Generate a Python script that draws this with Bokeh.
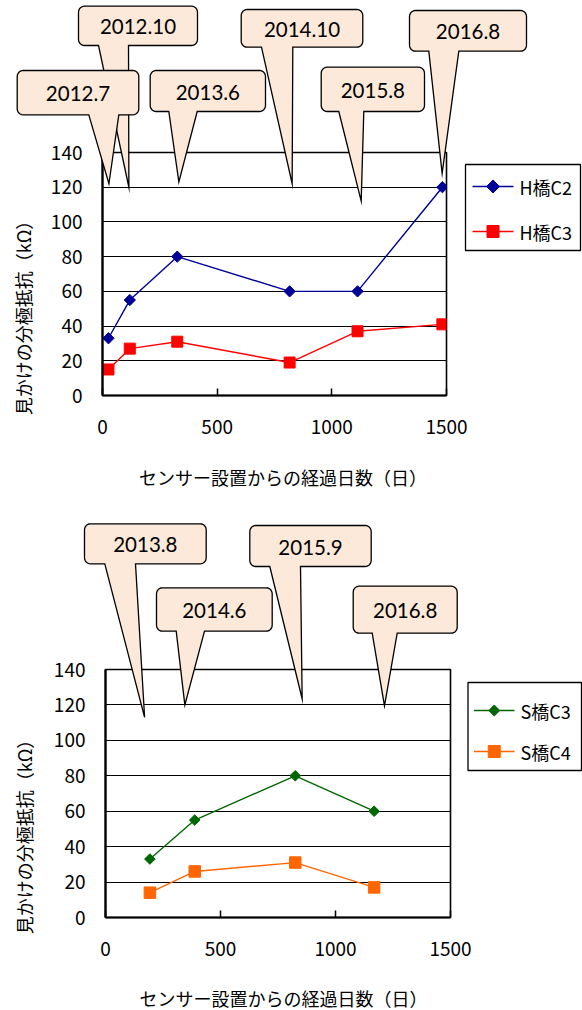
import math
from bokeh.plotting import figure
from bokeh.models import Range1d, FixedTicker
from bokeh.core.properties import value
from bokeh.embed import file_html
from bokeh.resources import INLINE

# ---------------- data ----------------
x_ticks = [0, 500, 1000, 1500]
y_ticks = [0, 20, 40, 60, 80, 100, 120, 140]

h_days = [26, 119, 326, 816, 1112, 1482]
h_c2 = [33, 55, 80, 60, 60, 120]
h_c3 = [15, 27, 31, 19, 37, 41]
h_names = ["H橋C2", "H橋C3"]
h_dates = ["2012.7", "2012.10", "2013.6", "2014.10", "2015.8", "2016.8"]
h_tip_days = [28, 115, 333, 827, 1128, 1481]
h_tip_vals = [122, 120, 123, 122, 112, 128]

s_days = [193, 388, 825, 1168]
s_c3 = [33, 55, 80, 60]
s_c4 = [14, 26, 31, 17]
s_names = ["S橋C3", "S橋C4"]
s_dates = ["2013.8", "2014.6", "2015.9", "2016.8"]
s_tip_days = [170, 345, 855, 1213]
s_tip_vals = [113, 120, 123.5, 119.5]

y_title = "見かけの分極抵抗（kΩ）"
x_title = "センサー設置からの経過日数（日）"

# ---------------- styles / layout (pixel positions on the page) ----------------
JP = "Noto Sans CJK JP"
FS = "18px"
TICK_FS = "19px"
CALLOUT_FS = "20.5px"
PEACH = "#FDE9D9"
PAGE_W = 582

top_cfg = dict(fig_top=0, height=505, frame_left=102, frame_w=344, frame_top=152, frame_h=243,
               legend_box=(465, 580, 164, 250), legend_rows=(186, 231), legend_line=(472, 513), legend_text_x=519,
               ytitle=(22.5, 313), xtitle=(282.5, 476.5),
               boxes=[(16.7, 138.3, 70, 114.3, 88.3, 118.3),
                      (78, 197, 5.7, 45, 98, 128),
                      (149.7, 265, 70, 111, 168.3, 196.7),
                      (240.7, 362.3, 9, 46.7, 261, 292.3),
                      (320.7, 424, 66.7, 111, 338.3, 363.3),
                      (409, 526, 10, 50.7, 428.3, 458.3)])
bot_cfg = dict(fig_top=505, height=505, frame_left=105, frame_w=345, frame_top=669, frame_h=248,
               legend_box=(467.5, 581, 682, 770), legend_rows=(710, 751), legend_line=(473.5, 514), legend_text_x=520,
               ytitle=(23, 832), xtitle=(283, 997),
               boxes=[(84, 205.7, 523.3, 563.3, 104.3, 135),
                      (156, 271.7, 587.3, 630.7, 175.7, 204),
                      (249.3, 370.7, 525, 566, 269.3, 300),
                      (352.7, 456.7, 585.7, 632.7, 371.7, 396.7)])

STYLES = [dict(color="#000099", marker="square", size=8, angle=math.pi / 4, leg_size=9.2),
          dict(color="#FF0000", marker="square", size=11, angle=0, leg_size=12)]
STYLES_S = [dict(color="#006600", marker="square", size=7.5, angle=math.pi / 4, leg_size=7.8),
            dict(color="#FF6600", marker="square", size=11.5, angle=0, leg_size=12)]


def rounded_poly(L, R, T, B, r=6, pointer=None):
    """Rounded rectangle outline (pixel coords), optionally with a callout pointer."""
    def arc(cx, cy, a0, a1, n=6):
        return [(cx + r * math.cos(math.radians(a0 + (a1 - a0) * k / n)),
                 cy + r * math.sin(math.radians(a0 + (a1 - a0) * k / n))) for k in range(n + 1)]

    pts = []
    if pointer is not None:
        b0, b1, tip = pointer
        pts.append((b1, B))
    pts += arc(R - r, B - r, 90, 0)
    pts += arc(R - r, T + r, 0, -90)
    pts += arc(L + r, T + r, -90, -180)
    pts += arc(L + r, B - r, 180, 90)
    if pointer is not None:
        pts += [(b0, B), tip, (b1, B)]
    return pts


def build(cfg, days, series, names, styles, dates, tip_days, tip_vals):
    fl, fw, ft, fh = cfg["frame_left"], cfg["frame_w"], cfg["frame_top"], cfg["frame_h"]
    x0, x1 = x_ticks[0], x_ticks[-1]
    y0, y1 = y_ticks[0], y_ticks[-1]

    def dx(sx):
        return x0 + (sx - fl) / fw * (x1 - x0)

    def dy(sy):
        return y0 + (ft + fh - sy) / fh * (y1 - y0)

    def sx_of(x):
        return fl + (x - x0) / (x1 - x0) * fw

    def sy_of(y):
        return ft + fh - (y - y0) / (y1 - y0) * fh

    mbt = ft - cfg["fig_top"]
    p = figure(width=PAGE_W, height=cfg["height"], x_range=Range1d(x0, x1), y_range=Range1d(y0, y1),
               output_backend="svg", toolbar_location=None, title=None,
               min_border_left=fl, min_border_right=PAGE_W - fl - fw,
               min_border_top=mbt, min_border_bottom=cfg["height"] - mbt - fh)
    p.background_fill_color = "white"
    p.border_fill_color = "white"
    p.outline_line_color = "black"
    p.outline_line_width = 1.6
    p.outline_line_alpha = 1

    p.xaxis.ticker = FixedTicker(ticks=x_ticks)
    p.yaxis.ticker = FixedTicker(ticks=y_ticks)
    p.axis.axis_line_color = "black"
    p.axis.axis_line_width = 2.2
    p.axis.major_label_text_font = JP
    p.axis.major_label_text_font_size = TICK_FS
    p.axis.major_label_text_color = "black"
    p.axis.minor_tick_in = 0
    p.axis.minor_tick_out = 0
    p.xaxis.major_tick_in = 7
    p.xaxis.major_tick_out = 0
    p.xaxis.major_tick_line_color = "black"
    p.xaxis.major_tick_line_width = 1.5
    p.yaxis.major_tick_in = 0
    p.yaxis.major_tick_out = 0
    p.xaxis.major_label_standoff = 24
    p.yaxis.major_label_standoff = 20
    p.xgrid.visible = False
    p.ygrid.grid_line_color = "black"
    p.ygrid.grid_line_width = 1.2
    p.ygrid.grid_line_alpha = 1

    for vals, st in zip(series, styles):
        p.line(days, vals, line_color=st["color"], line_width=1.4)
        p.scatter(days, vals, marker=st["marker"], size=st["size"], angle=st["angle"],
                  fill_color=st["color"], line_color=st["color"])

    # legend (drawn at overlay level, outside the frame)
    L, R, T, B = cfg["legend_box"]
    p.quad(left=[dx(L)], right=[dx(R)], top=[dy(T)], bottom=[dy(B)],
           fill_color="white", line_color="black", line_width=1.3, level="overlay")
    la, lb = cfg["legend_line"]
    for name, st, ry in zip(names, styles, cfg["legend_rows"]):
        p.line([dx(la), dx(lb)], [dy(ry), dy(ry)], line_color=st["color"], line_width=1.4, level="overlay")
        cx = (la + lb) / 2
        rad = st["leg_size"] / math.sqrt(2)
        corners = [(cx + rad * math.cos(st["angle"] + math.pi / 4 + k * math.pi / 2),
                    ry + rad * math.sin(st["angle"] + math.pi / 4 + k * math.pi / 2)) for k in range(4)]
        p.patch([dx(a) for a, _ in corners], [dy(b) for _, b in corners],
                fill_color=st["color"], line_color=st["color"], line_width=1, level="overlay")
        p.text(x=[dx(cfg["legend_text_x"])], y=[dy(ry)], text=[name], text_font=value(JP),
               text_font_size=FS, text_color="black", text_align="left", text_baseline="middle",
               level="overlay")

    # callouts (higher boxes first so lower boxes sit on top of their pointers)
    entries = list(zip(cfg["boxes"], dates, tip_days, tip_vals))
    entries.sort(key=lambda e: e[0][2])
    for (L, R, T, B, b0, b1), txt, td, tv in entries:
        tip = (sx_of(td), sy_of(tv))
        pts = rounded_poly(L, R, T, B, pointer=(b0, b1, tip))
        p.patch([dx(a) for a, _ in pts], [dy(b) for _, b in pts],
                fill_color=PEACH, fill_alpha=1, line_color="black", line_width=1.3,
                line_join="miter", level="overlay")
        p.text(x=[dx((L + R) / 2)], y=[dy((T + B) / 2 + 1)], text=[txt],
               text_font=value("Lato"), text_font_size=CALLOUT_FS, text_color="black",
               text_align="center", text_baseline="middle", level="overlay")

    ytx, yty = cfg["ytitle"]
    p.text(x=[dx(ytx)], y=[dy(yty)], text=[y_title], angle=math.pi / 2,
           text_align="center", text_baseline="middle",
           text_font=value(JP), text_font_size=FS, text_color="black", level="overlay")
    xtx, xty = cfg["xtitle"]
    p.text(x=[dx(xtx)], y=[dy(xty)], text=[x_title],
           text_align="center", text_baseline="middle",
           text_font=value(JP), text_font_size=FS, text_color="black", level="overlay")
    return p


top = build(top_cfg, h_days, [h_c2, h_c3], h_names, STYLES, h_dates, h_tip_days, h_tip_vals)
bot = build(bot_cfg, s_days, [s_c3, s_c4], s_names, STYLES_S, s_dates, s_tip_days, s_tip_vals)

open("out.html", "w").write(file_html([top, bot], INLINE))
